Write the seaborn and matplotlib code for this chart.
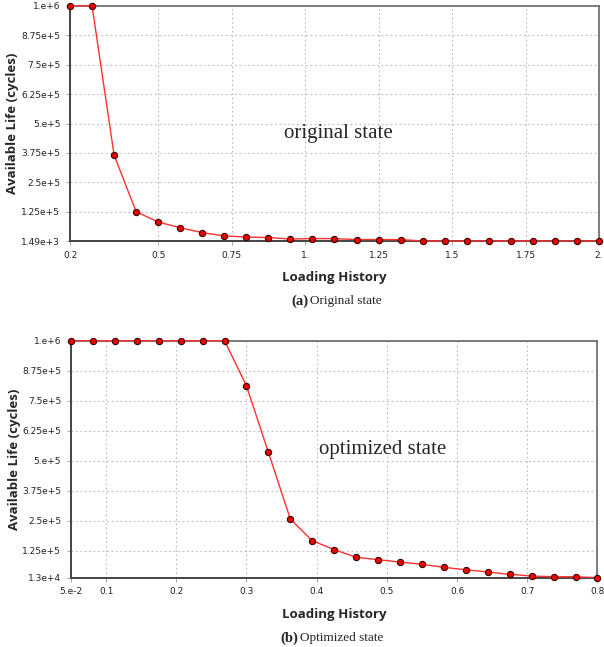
import matplotlib
matplotlib.use("Agg")
import matplotlib.pyplot as plt
import seaborn as sns

# (a) original state
orig_x = [0.2, 0.275, 0.35, 0.425, 0.5, 0.575, 0.65, 0.725, 0.8, 0.875, 0.95, 1.025, 1.1,
          1.175, 1.25, 1.325, 1.4, 1.475, 1.55, 1.625, 1.7, 1.775, 1.85, 1.925, 2.0]
orig_life = [1e6, 1e6, 366e3, 126e3, 82e3, 58e3, 37e3, 23e3, 18.5e3, 16e3, 10e3, 11.7e3, 11.7e3,
             7.5e3, 7.5e3, 7.5e3, 1490, 1490, 1490, 1490, 1490, 1490, 1490, 1490, 1490]
orig_xticks = [0.2, 0.5, 0.75, 1.0, 1.25, 1.5, 1.75, 2.0]
orig_xlabels = ['0.2', '0.5', '0.75', '1.', '1.25', '1.5', '1.75', '2.']
orig_yticks = [1490, 125e3, 250e3, 375e3, 500e3, 625e3, 750e3, 875e3, 1e6]
orig_ylabels = ['1.49e+3', '1.25e+5', '2.5e+5', '3.75e+5', '5.e+5', '6.25e+5', '7.5e+5', '8.75e+5', '1.e+6']

# (b) optimized state
opt_x = [0.05, 0.08125, 0.1125, 0.14375, 0.175, 0.20625, 0.2375, 0.26875, 0.3, 0.33125, 0.3625,
         0.39375, 0.425, 0.45625, 0.4875, 0.51875, 0.55, 0.58125, 0.6125, 0.64375, 0.675,
         0.70625, 0.7375, 0.76875, 0.8]
opt_life = [1e6, 1e6, 1e6, 1e6, 1e6, 1e6, 1e6, 1e6, 812e3, 535e3, 257e3, 167e3, 130e3, 98e3,
            88e3, 78e3, 69e3, 56e3, 46e3, 37e3, 27e3, 20e3, 17e3, 17e3, 13e3]
opt_xticks = [0.05, 0.1, 0.2, 0.3, 0.4, 0.5, 0.6, 0.7, 0.8]
opt_xlabels = ['5.e-2', '0.1', '0.2', '0.3', '0.4', '0.5', '0.6', '0.7', '0.8']
opt_yticks = [13e3, 125e3, 250e3, 375e3, 500e3, 625e3, 750e3, 875e3, 1e6]
opt_ylabels = ['1.3e+4', '1.25e+5', '2.5e+5', '3.75e+5', '5.e+5', '6.25e+5', '7.5e+5', '8.75e+5', '1.e+6']

sns.set_style("white")
plt.rcParams['font.family'] = ['DejaVu Sans']

fig = plt.figure(figsize=(6.04, 6.47), dpi=100)
ax1 = fig.add_axes([0.1159, 0.6275, 0.8758, 0.3637])
ax2 = fig.add_axes([0.1175, 0.1071, 0.8717, 0.3663])


def draw(ax, x, y, xticks, xlabels, yticks, ylabels, note, note_xy):
    sns.lineplot(x=x, y=y, ax=ax, color='#ff3030', linewidth=1.0, marker='o',
                 markersize=4.5, markerfacecolor='#ee0000', markeredgecolor='#3a0000',
                 markeredgewidth=0.8, clip_on=False, zorder=3)
    ax.set_xlim(x[0], x[-1])
    ax.set_ylim(yticks[0], yticks[-1])
    ax.set_xticks(xticks)
    ax.set_xticklabels(xlabels)
    ax.set_yticks(yticks)
    ax.set_yticklabels(ylabels)
    ax.tick_params(labelsize=6.5, labelcolor='#222222', length=3, width=0.6,
                   color='#999999', direction='out', pad=4)
    ax.tick_params(axis='both', which='both', bottom=True, left=True)
    ax.grid(True, color='#bbbbbb', linestyle=(0, (1.5, 2.5)), linewidth=0.8)
    for s in ['left', 'bottom']:
        ax.spines[s].set_color('#444444')
        ax.spines[s].set_linewidth(1.4)
    for s in ['top', 'right']:
        ax.spines[s].set_color('#666666')
        ax.spines[s].set_linewidth(1.2)
    ax.set_xlabel('Loading History', fontsize=9.5, fontweight='bold', family='Open Sans')
    ax.set_ylabel('Available Life (cycles)', fontsize=9.5, fontweight='bold', family='Open Sans')
    ax.xaxis.set_label_coords(0.5, -0.155)
    ax.xaxis.label.set_va('center')
    ax.yaxis.set_label_coords(-0.108, 0.5)
    ax.yaxis.label.set_va('center')
    ax.text(note_xy[0], note_xy[1], note, transform=ax.transAxes, fontsize=15,
            family='Liberation Serif', ha='left', va='center')


draw(ax1, orig_x, orig_life, orig_xticks, orig_xlabels, orig_yticks, orig_ylabels,
     'original state', (0.405, 0.455))
draw(ax2, opt_x, opt_life, opt_xticks, opt_xlabels, opt_yticks, opt_ylabels,
     'optimized state', (0.472, 0.54))

# captions
fig.text(308 / 604, 1 - 301 / 647, '(a)', fontsize=10.5, fontweight='bold',
         family='Liberation Serif', ha='right', va='center')
fig.text(310 / 604, 1 - 301 / 647, 'Original state', fontsize=9.5,
         family='Liberation Serif', ha='left', va='center')
fig.text(298 / 604, 1 - 638 / 647, '(b)', fontsize=10.5, fontweight='bold',
         family='Liberation Serif', ha='right', va='center')
fig.text(300 / 604, 1 - 638 / 647, 'Optimized state', fontsize=9.5,
         family='Liberation Serif', ha='left', va='center')

fig.savefig('out.png', dpi=100)
